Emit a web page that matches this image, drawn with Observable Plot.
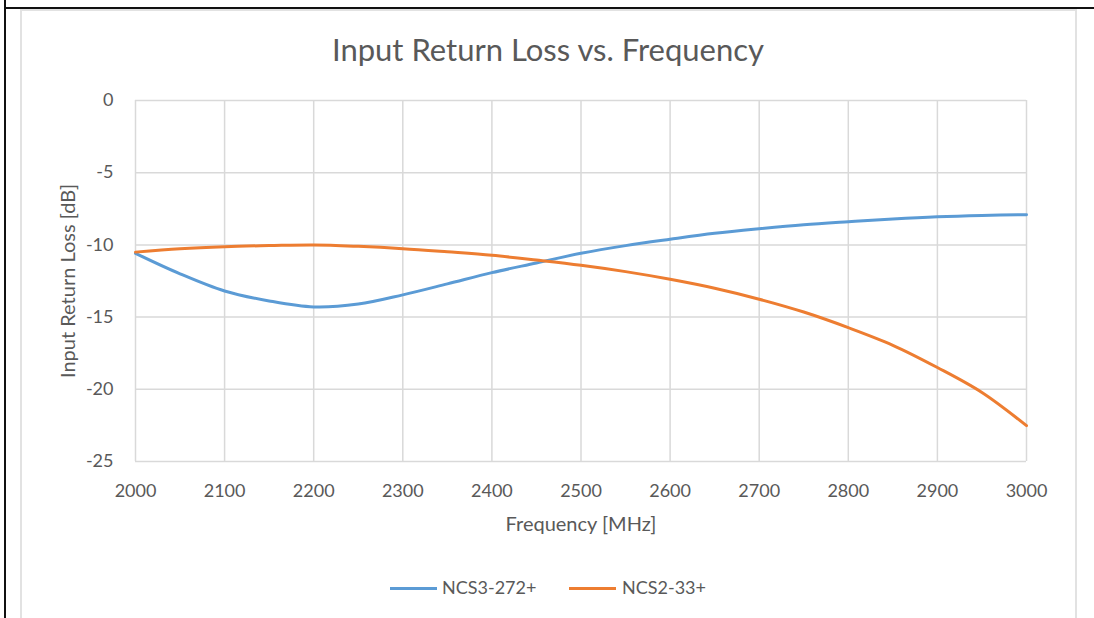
<!DOCTYPE html>
<html>
<head>
<meta charset="utf-8">
<script src="https://cdn.jsdelivr.net/npm/d3@7"></script>
<script src="https://cdn.jsdelivr.net/npm/@observablehq/plot@0.6"></script>
<style>
  body { margin: 0; background: #fff; }
  #wrap { position: relative; width: 1094px; height: 618px; overflow: hidden; font-family: Lato, "Open Sans", sans-serif; color: #595959; background: #fff; }
  #wrap svg { position: absolute; left: 0; top: 0; }
  .abs { position: absolute; }
  .blackV { left: 4px; top: 0; width: 2px; height: 618px; background: #111; }
  .blackH { left: 4px; top: 7px; width: 1090px; height: 2px; background: #111; }
  .chartBox { left: 20px; top: 9px; width: 1053px; height: 700px; border: 2px solid #e2e2e2; border-bottom: none; }
  .title { left: 21px; width: 1054px; top: 34px; text-align: center; font-size: 31px; line-height: 31px; white-space: nowrap; }
  .swatch { height: 3px; width: 47px; top: 587px; }
  .ltext { top: 578px; font-size: 18px; line-height: 18px; white-space: nowrap; }
</style>
</head>
<body>
<div id="wrap">
  <div class="abs chartBox"></div>
  <div class="abs blackV"></div>
  <div class="abs blackH"></div>
  <div class="abs title" id="title"></div>
  <div class="abs swatch" id="sw0" style="left:390px"></div>
  <div class="abs ltext" id="lt0" style="left:442px"></div>
  <div class="abs swatch" id="sw1" style="left:569px"></div>
  <div class="abs ltext" id="lt1" style="left:622px"></div>
</div>
<script>
const titleText = "Input Return Loss vs. Frequency";
const xLabelText = "Frequency [MHz]";
const yLabelText = "Input Return Loss [dB]";
const seriesNames = ["NCS3-272+", "NCS2-33+"];
const seriesColors = ["#5B9BD5", "#ED7D31"];
const xTicks = [2000, 2100, 2200, 2300, 2400, 2500, 2600, 2700, 2800, 2900, 3000];
const yTicks = [0, -5, -10, -15, -20, -25];

const freq = [2000, 2050, 2100, 2150, 2200, 2250, 2300, 2350, 2400, 2450, 2500,
              2550, 2600, 2650, 2700, 2750, 2800, 2850, 2900, 2950, 3000];
const ncs3_272 = [-10.58, -12.0, -13.19, -13.88, -14.3, -14.1, -13.46, -12.7, -11.92, -11.25, -10.58,
                  -10.05, -9.61, -9.2, -8.88, -8.6, -8.39, -8.2, -8.05, -7.96, -7.91];
const ncs2_33 = [-10.5, -10.26, -10.12, -10.05, -10.0, -10.1, -10.26, -10.48, -10.72, -11.05, -11.41,
                 -11.85, -12.38, -13.0, -13.76, -14.65, -15.73, -16.95, -18.49, -20.22, -22.52];

const seriesValues = [ncs3_272, ncs2_33];
const data = seriesNames.flatMap((s, k) => freq.map((f, i) => ({ f, v: seriesValues[k][i], s })));

const gridStyle = { stroke: "#d9d9d9", strokeOpacity: 1, strokeWidth: 1.5 };
const plain = d => String(d);

const chart = Plot.plot({
  width: 1094,
  height: 618,
  marginLeft: 135,
  marginRight: 68,
  marginTop: 100,
  marginBottom: 157,
  style: { fontFamily: "Lato, 'Open Sans', sans-serif", fontSize: "18px", color: "#595959", background: "transparent", overflow: "visible" },
  x: { domain: [2000, 3000] },
  y: { domain: [-25, 0] },
  color: { domain: seriesNames, range: seriesColors },
  marks: [
    Plot.gridX(xTicks, gridStyle),
    Plot.gridY(yTicks, gridStyle),
    Plot.axisX(xTicks, { tickSize: 0, tickPadding: 23, tickFormat: plain, label: null, fill: "#595959" }),
    Plot.axisY(yTicks, { tickSize: 0, tickPadding: 22, tickFormat: plain, label: null, fill: "#595959" }),
    Plot.text([xLabelText], { frameAnchor: "bottom", dy: 63, textAnchor: "middle", lineAnchor: "middle", fontSize: 20, fill: "#595959" }),
    Plot.text([yLabelText], { frameAnchor: "left", dx: -67, rotate: -90, textAnchor: "middle", lineAnchor: "middle", fontSize: 20, fill: "#595959" }),
    Plot.line(data, { x: "f", y: "v", z: "s", stroke: "s", curve: "catmull-rom", strokeWidth: 3, strokeLinecap: "round", strokeLinejoin: "round" })
  ]
});

const wrap = document.getElementById("wrap");
wrap.insertBefore(chart, wrap.children[1]);

document.getElementById("title").textContent = titleText;
seriesNames.forEach((s, k) => {
  document.getElementById("sw" + k).style.background = seriesColors[k];
  document.getElementById("lt" + k).textContent = s;
});
</script>
</body>
</html>
